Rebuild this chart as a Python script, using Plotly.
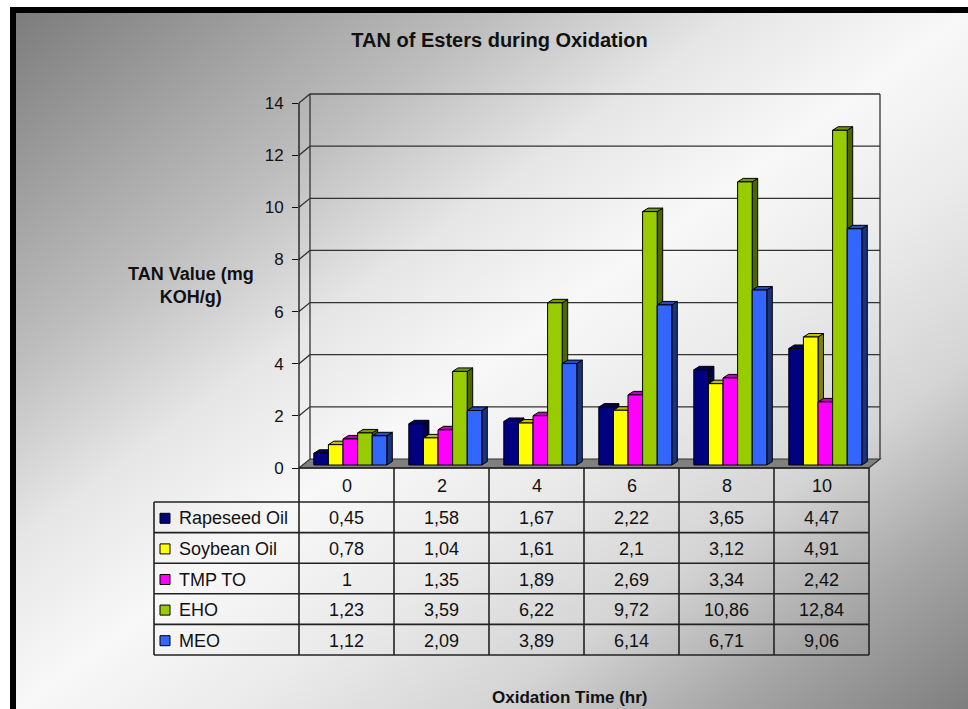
import base64
import plotly.graph_objects as go

# ---- data -------------------------------------------------------------
TIMES = ["0", "2", "4", "6", "8", "10"]
SERIES = ["Rapeseed Oil", "Soybean Oil", "TMP TO", "EHO", "MEO"]
RAPESEED = [0.45, 1.58, 1.67, 2.22, 3.65, 4.47]
SOYBEAN = [0.78, 1.04, 1.61, 2.1, 3.12, 4.91]
TMP_TO = [1, 1.35, 1.89, 2.69, 3.34, 2.42]
EHO = [1.23, 3.59, 6.22, 9.72, 10.86, 12.84]
MEO = [1.12, 2.09, 3.89, 6.14, 6.71, 9.06]
Y_TICKS = [0, 2, 4, 6, 8, 10, 12, 14]
Y_MAX = 14

VALUES = [RAPESEED, SOYBEAN, TMP_TO, EHO, MEO]
COLORS = ["#000080", "#FFFF00", "#FF00FF", "#99CC00", "#3366FF"]

# ---- page geometry ----------------------------------------------------
W, H = 968, 709
M_L, M_R, M_T, M_B = 299, 84, 90, 238
PW, PH = W - M_L - M_R, H - M_T - M_B
CAT_PX = 95.0          # width of one time column
UNIT_PX = 26.07        # pixels per TAN unit
X0_PX, Y0_PX = 299.0, 468.0   # pixel of (x=-0.5, y=0)

X_RANGE = [-0.5, -0.5 + PW / CAT_PX]
Y_RANGE = [-(H - M_B - Y0_PX) / UNIT_PX, (Y0_PX - M_T) / UNIT_PX]

WALL_DX, WALL_DY = 11 / CAT_PX, 9 / UNIT_PX       # depth of the 3-D box
BAR_W = 14.6 / CAT_PX
BAR_SHIFT = 0.04
BAR_BASE = 3 / UNIT_PX
BAR_DX, BAR_DY = 5.5 / CAT_PX, 3.5 / UNIT_PX      # depth of each bar

FONT = "Liberation Sans, Arial, sans-serif"
LINE = "#222222"


def fx(px):
    return (px - M_L) / PW


def fy(py):
    return (H - M_B - py) / PH


def X(x):
    return fx(X0_PX + (x + 0.5) * CAT_PX)


def Y(y):
    return fy(Y0_PX - y * UNIT_PX)


def shade(hex_color, f):
    h = hex_color.lstrip("#")
    r, g, b = (int(h[k:k + 2], 16) for k in (0, 2, 4))
    return "#%02x%02x%02x" % (int(r * f), int(g * f), int(b * f))


def fmt(v):
    return f"{v:g}".replace(".", ",")


# ---- background: framed diagonal gray gradient ----------------------
svg = f"""<svg xmlns='http://www.w3.org/2000/svg' width='{W}' height='{H}' viewBox='0 0 {W} {H}' preserveAspectRatio='none'>
<defs><linearGradient id='g' x1='0' y1='0' x2='1' y2='1'>
<stop offset='0' stop-color='#7c7c7c'/>
<stop offset='0.17' stop-color='#a9a9a9'/>
<stop offset='0.25' stop-color='#bdbdbd'/>
<stop offset='0.38' stop-color='#e6e6e6'/>
<stop offset='0.5' stop-color='#f8f8f8'/>
<stop offset='0.62' stop-color='#eaeaea'/>
<stop offset='0.75' stop-color='#d4d4d4'/>
<stop offset='0.87' stop-color='#a6a6a6'/>
<stop offset='1' stop-color='#7e7e7e'/>
</linearGradient></defs>
<rect width='{W}' height='{H}' fill='white'/>
<rect x='10' y='7' width='{W - 10}' height='{H - 7}' fill='black'/>
<rect x='16' y='13' width='{W - 16}' height='{H - 13}' fill='url(#g)'/>
</svg>"""
bg_uri = "data:image/svg+xml;base64," + base64.b64encode(svg.encode()).decode()

fig = go.Figure()

# ---- front faces of the bars -----------------------------------------
n_cat = len(TIMES)
for j, (name, vals, col) in enumerate(zip(SERIES, VALUES, COLORS)):
    xs = [i + BAR_SHIFT + (j - 2) * BAR_W for i in range(n_cat)]
    fig.add_trace(go.Bar(
        x=xs, y=vals, base=BAR_BASE, width=BAR_W, name=name,
        marker=dict(color=col, line=dict(color="#000000", width=1)),
        showlegend=False, hoverinfo="skip",
    ))

shapes = []

# ---- 3-D box: floor, walls and gridlines -------------------------------
xl, xr = -0.5, n_cat - 0.5
shapes.append(dict(
    type="path", xref="paper", yref="paper", layer="below",
    path=f"M{X(xl)},{Y(0)} L{X(xr)},{Y(0)} L{X(xr + WALL_DX)},{Y(WALL_DY)} "
         f"L{X(xl + WALL_DX)},{Y(WALL_DY)} Z",
    fillcolor="#808080", line=dict(color="#333333", width=1.2)))
for t in Y_TICKS[1:]:
    shapes.append(dict(
        type="path", xref="paper", yref="paper", layer="below",
        path=f"M{X(xl)},{Y(t)} L{X(xl + WALL_DX)},{Y(t + WALL_DY)} "
             f"L{X(xr + WALL_DX)},{Y(t + WALL_DY)}",
        line=dict(color="#333333", width=1.3)))
for xe in (xl + WALL_DX, xr + WALL_DX):
    shapes.append(dict(
        type="line", xref="paper", yref="paper", layer="below",
        x0=X(xe), x1=X(xe), y0=Y(WALL_DY), y1=Y(Y_MAX + WALL_DY),
        line=dict(color="#333333", width=1.3)))
# front value axis line
shapes.append(dict(
    type="line", xref="paper", yref="paper", layer="below",
    x0=X(xl), x1=X(xl), y0=Y(0), y1=Y(Y_MAX),
    line=dict(color="#111111", width=1.3)))

# ---- side and top faces of the bars ----------------------------------
for j, (vals, col) in enumerate(zip(VALUES, COLORS)):
    side, top = shade(col, 0.5), shade(col, 0.75)
    for i, v in enumerate(vals):
        x0 = i + BAR_SHIFT + (j - 2.5) * BAR_W
        x1 = x0 + BAR_W
        b, h = BAR_BASE, BAR_BASE + v
        shapes.append(dict(
            type="path", xref="x", yref="y", layer="below",
            path=f"M{x1},{b} L{x1 + BAR_DX},{b + BAR_DY} "
                 f"L{x1 + BAR_DX},{h + BAR_DY} L{x1},{h} Z",
            fillcolor=side, line=dict(color="#000000", width=1)))
        shapes.append(dict(
            type="path", xref="x", yref="y", layer="below",
            path=f"M{x0},{h} L{x0 + BAR_DX},{h + BAR_DY} "
                 f"L{x1 + BAR_DX},{h + BAR_DY} L{x1},{h} Z",
            fillcolor=top, line=dict(color="#000000", width=1)))

# ---- data table -------------------------------------------------------
TABLE_LEFT = 154.0
HEADER_BOTTOM = 502.0
ROW_H = 30.6
row_edges = [HEADER_BOTTOM + k * ROW_H for k in range(len(SERIES) + 1)]
table_bottom = row_edges[-1]
col_edges = [X0_PX + k * CAT_PX for k in range(n_cat + 1)]

tline = dict(color=LINE, width=1.6)
shapes.append(dict(type="line", xref="paper", yref="paper",
                   x0=fx(col_edges[0]), x1=fx(col_edges[-1]),
                   y0=fy(Y0_PX), y1=fy(Y0_PX), line=tline))
for ry in row_edges:
    shapes.append(dict(type="line", xref="paper", yref="paper",
                       x0=fx(TABLE_LEFT), x1=fx(col_edges[-1]),
                       y0=fy(ry), y1=fy(ry), line=tline))
for cx in col_edges:
    shapes.append(dict(type="line", xref="paper", yref="paper",
                       x0=fx(cx), x1=fx(cx), y0=fy(Y0_PX), y1=fy(table_bottom),
                       line=tline))
shapes.append(dict(type="line", xref="paper", yref="paper",
                   x0=fx(TABLE_LEFT), x1=fx(TABLE_LEFT),
                   y0=fy(HEADER_BOTTOM), y1=fy(table_bottom), line=tline))

annotations = []
cell_font = dict(family=FONT, size=18, color="#111111")
for i, t in enumerate(TIMES):
    cx = (col_edges[i] + col_edges[i + 1]) / 2
    annotations.append(dict(
        text=t, x=fx(cx), y=fy((Y0_PX + HEADER_BOTTOM) / 2 + 1),
        xref="paper", yref="paper", xanchor="center", yanchor="middle",
        showarrow=False, font=cell_font))
for j, (name, vals, col) in enumerate(zip(SERIES, VALUES, COLORS)):
    cy = (row_edges[j] + row_edges[j + 1]) / 2 + 1
    shapes.append(dict(type="rect", xref="paper", yref="paper",
                       x0=fx(160), x1=fx(170), y0=fy(cy - 5), y1=fy(cy + 5),
                       fillcolor=col, line=dict(color="#000000", width=1)))
    annotations.append(dict(
        text=name, x=fx(177), y=fy(cy), xref="paper", yref="paper",
        xanchor="left", yanchor="middle", showarrow=False, font=cell_font))
    for i, v in enumerate(vals):
        cx = (col_edges[i] + col_edges[i + 1]) / 2
        annotations.append(dict(
            text=fmt(v), x=fx(cx), y=fy(cy), xref="paper", yref="paper",
            xanchor="center", yanchor="middle", showarrow=False, font=cell_font))

# ---- axis titles --------------------------------------------------------
annotations.append(dict(
    text="TAN Value (mg<br>KOH/g)", x=fx(191), y=fy(285),
    xref="paper", yref="paper", xanchor="center", yanchor="middle",
    align="center", showarrow=False,
    font=dict(family=FONT, size=18, color="#111111", weight=700)))
annotations.append(dict(
    text="Oxidation Time (hr)", x=fx(570), y=fy(697),
    xref="paper", yref="paper", xanchor="center", yanchor="middle",
    showarrow=False,
    font=dict(family=FONT, size=17, color="#111111", weight=700)))

fig.update_layout(
    width=W, height=H,
    margin=dict(l=M_L, r=M_R, t=M_T, b=M_B, pad=0),
    paper_bgcolor="white", plot_bgcolor="rgba(0,0,0,0)",
    barmode="overlay",
    title=dict(text="TAN of Esters during Oxidation",
               x=499.5 / W, xref="container", xanchor="center",
               y=1 - 40 / H, yref="container", yanchor="middle",
               font=dict(family=FONT, size=20, color="#111111", weight=700)),
    xaxis=dict(range=X_RANGE, showgrid=False, zeroline=False, showline=False,
               showticklabels=False, ticks="", fixedrange=True),
    yaxis=dict(range=Y_RANGE, tickvals=Y_TICKS, showgrid=False, zeroline=False,
               showline=False, ticks="outside", ticklen=6, tickwidth=1,
               tickcolor="#111111", ticklabelstandoff=5,
               tickfont=dict(family=FONT, size=17, color="#111111"),
               fixedrange=True),
    images=[dict(source=bg_uri, xref="paper", yref="paper",
                 x=fx(0), y=fy(0), sizex=W / PW, sizey=H / PH,
                 xanchor="left", yanchor="top", sizing="stretch",
                 layer="below")],
    shapes=shapes,
    annotations=annotations,
)

fig.write_html("out.html")
